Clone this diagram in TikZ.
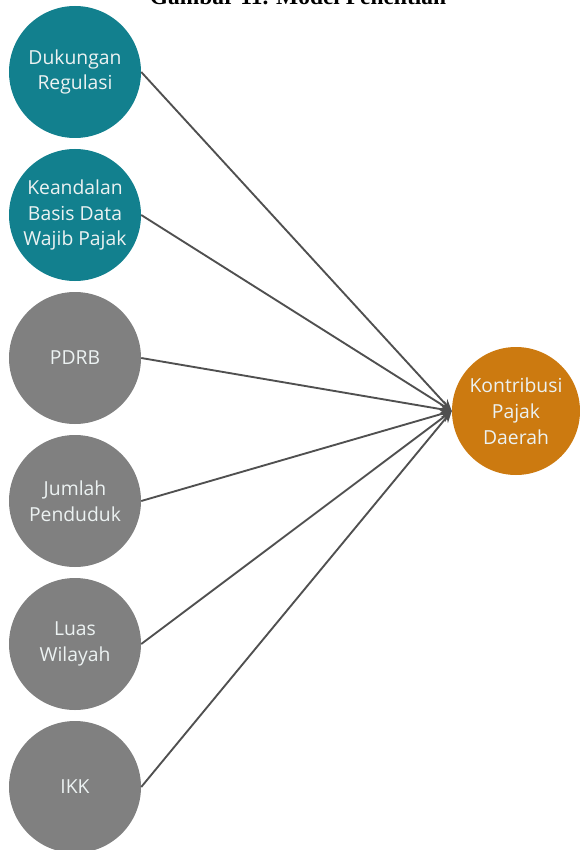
\documentclass[tikz,border=0pt]{standalone}
\usepackage{fontspec}
\setmainfont{Open Sans}
\newfontfamily\titlefont{Liberation Serif}
\usetikzlibrary{arrows.meta,positioning}

\definecolor{tealc}{RGB}{18,128,142}
\definecolor{grayc}{RGB}{128,128,128}
\definecolor{orangec}{RGB}{204,122,16}
\definecolor{linec}{RGB}{80,80,80}
\definecolor{textc}{RGB}{236,242,242}

\begin{document}
\begin{tikzpicture}[node distance= 4.29cm]
      \useasboundingbox (0,0) rectangle (17.37,-25.5);
      \node (title) [anchor=base] at (8.94,-0.13) {\titlefont\bfseries\fontsize{20}{22}\selectfont Gambar 11. Model Penelitian};
      \begin{scope}[every node/.style={circle,minimum size=3.96cm,inner sep=0pt,
          align=center,text=textc,font=\fontsize{16.5}{22}\selectfont}]
        \node (DR) [fill=tealc] at (2.25,-2.16) {Dukungan\\Regulasi};
        \node (KB) [fill=tealc,below of= DR] {Keandalan\\Basis Data\\Wajib Pajak};
        \node (PD) [fill=grayc,below of= KB] {PDRB};
        \node (JP) [fill=grayc,below of= PD] {Jumlah\\Penduduk};
        \node (LW) [fill=grayc,below of= JP] {Luas\\Wilayah};
        \node (IK) [fill=grayc,below of= LW] {IKK};
        \node (KP) [fill=orangec,minimum size=3.84cm] at (15.48,-12.33) {Kontribusi\\Pajak\\Daerah};
      \end{scope}
      \begin{scope}
        [every edge/.style={draw= linec, line width=1.6pt, -{Stealth[length=10pt,width=8pt]}}]
        \path (DR.east) edge (KP.west);
        \path (KB.east) edge (KP.west);
        \path (PD.east) edge (KP.west);
        \path (JP.east) edge (KP.west);
        \path (LW.east) edge (KP.west);
        \path (IK.east) edge (KP.west);
      \end{scope}
    \end{tikzpicture}
\end{document}
